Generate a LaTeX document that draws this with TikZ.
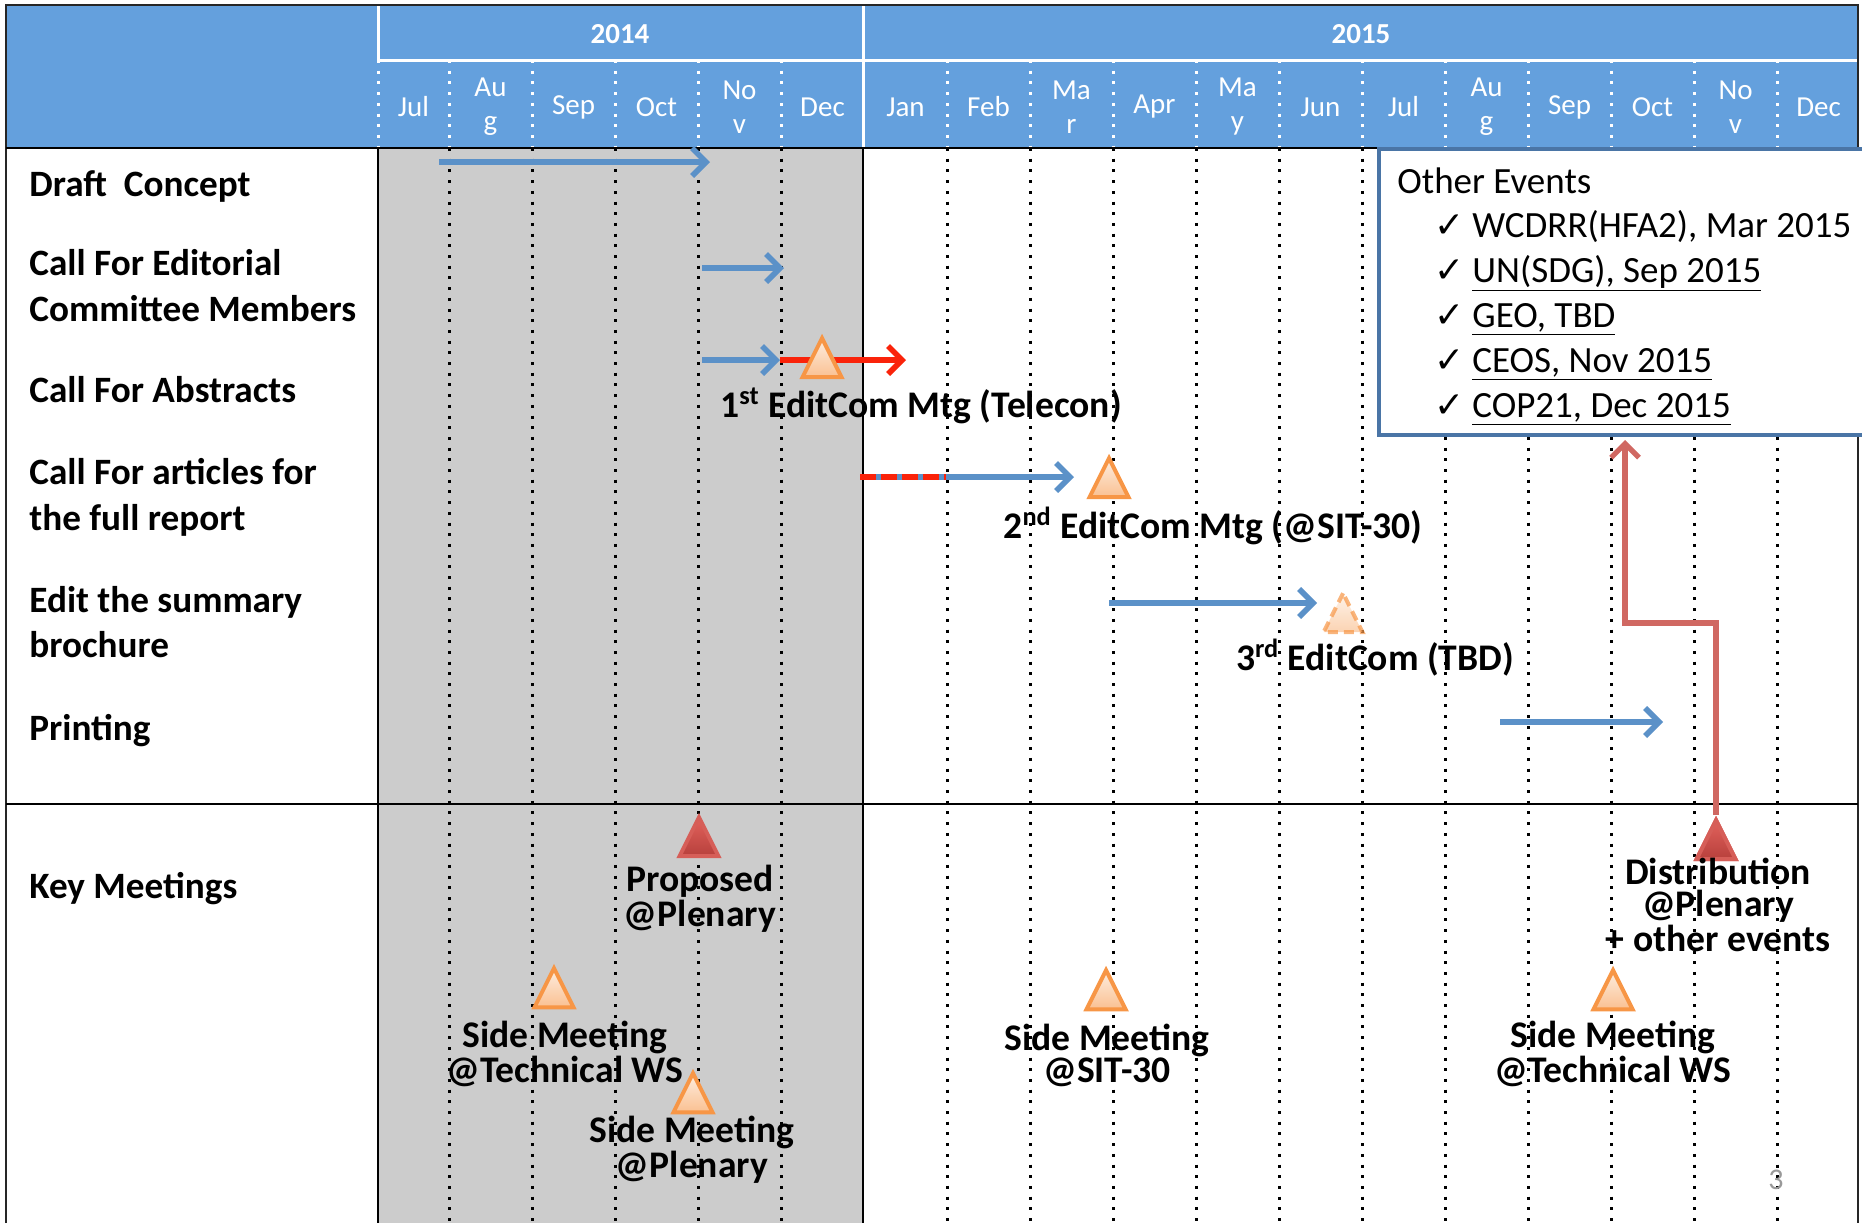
\documentclass[tikz,border=0pt]{standalone}
\usepackage{fontspec}
\setmainfont{Carlito}
\newfontfamily\symfont{DejaVu Sans}
\usetikzlibrary{arrows.meta}
\usetikzlibrary{shapes.geometric}
\usepackage{xcolor}

\definecolor{headblue}{RGB}{100,160,221}
\definecolor{pastgrey}{RGB}{204,204,204}
\definecolor{taskblue}{RGB}{91,145,200}
\definecolor{alertred}{RGB}{250,35,10}
\definecolor{linkred}{RGB}{208,104,98}
\definecolor{boxblue}{RGB}{74,117,166}
\definecolor{mtgline}{RGB}{247,150,70}
\definecolor{mtgtop}{RGB}{253,238,225}
\definecolor{mtgbot}{RGB}{250,192,145}
\definecolor{keyline}{RGB}{214,94,88}
\definecolor{keytop}{RGB}{226,98,92}
\definecolor{keybot}{RGB}{183,64,60}

\tikzset{
  rowlabel/.style={anchor=base west, inner sep=0pt, font=\fontsize{18.6}{23}\selectfont\bfseries},
  monthlabel/.style={align=center, text=white, inner sep=0pt, font=\fontsize{14.5}{17}\selectfont},
  yearlabel/.style={text=white, inner sep=0pt, font=\fontsize{14.5}{17}\selectfont\bfseries},
  mtglabel/.style={align=center, anchor=base, inner sep=0pt, font=\fontsize{18.8}{16}\selectfont\bfseries},
  evtext/.style={anchor=base west, inner sep=0pt, font=\fontsize{18.5}{22}\selectfont},
  griddots/.style={line width=1.5pt, dash pattern=on 1.5pt off 3.85pt},
  task/.style={taskblue, line width=2.8pt, -{Straight Barb[length=7pt,width=14pt]}},
  late/.style={alertred, line width=2.8pt},
  link/.style={linkred, line width=2.6pt, -{Straight Barb[length=7pt,width=14pt]}},
  mtg/.style={isosceles triangle, isosceles triangle stretches, shape border rotate=90,
    minimum width=19.5pt, minimum height=19.5pt, inner sep=0pt, anchor=apex,
    draw=mtgline, line width=2pt, top color=mtgtop, bottom color=mtgbot},
  keymtg/.style={mtg, draw=keyline, top color=keytop, bottom color=keybot},
}

\begin{document}
\begin{tikzpicture}[x=0.5pt, y=-0.5pt]

        \clip (0,0) rectangle (1862,1223);

        % Header and past months
        \fill[headblue] (6,5) rectangle (1858,148);
        \fill[pastgrey] (378,148) rectangle (863,1223);

        % Month grid
        \foreach \i in {0,...,16}
        {
          \pgfmathsetmacro\mx{449+83*\i}
          \ifnum\i=5\relax\else
            \draw[griddots] (\mx,148) -- (\mx,1223);
            \draw[griddots, white] (\mx,60) -- (\mx,148);
          \fi
        }
        \draw[griddots, white] (378,60) -- (378,148);

        % Header lines
        \draw[white, line width=1.5pt] (378,5) -- (378,60) -- (1858,60);
        \draw[white, line width=1.5pt] (863,5) -- (863,148);

        % Table lines
        \draw[black!85, line width=1pt] (6,1223) -- (6,5) -- (1858,5) -- (1858,1223);
        \draw[line width=1pt] (6,148) -- (1858,148);
        \draw[line width=1pt] (378,148) -- (378,1223);
        \draw[line width=1pt] (863,148) -- (863,1223);
        \draw[line width=0.7pt] (6,804) -- (1858,804);

        % Years and months
        \node[yearlabel] (y2014) at (620,34) {2014};
        \node[yearlabel] (y2015) at (1361,34) {2015};
        \foreach \m [count=\i from 0] in {Jul,{Au\\g},Sep,Oct,{No\\v},Dec,Jan,Feb,{Ma\\r},Apr,{Ma\\y},Jun,Jul,{Au\\g},Sep,Oct,{No\\v},Dec}
        {
          \pgfmathsetmacro\mx{max(413.5,407.5+83*\i)}
          \node[monthlabel] (m\i) at (\mx,107) {\m};
        }

        % Row labels
        \foreach \y/\t [count=\k] in {196/Draft\ \ Concept, 275/Call For Editorial, 321/Committee Members,
            402/Call For Abstracts, 484/Call For articles for, 530/the full report,
            612/Edit the summary, 657/brochure, 740/Printing, 898/Key Meetings}
          \node[rowlabel] (row\k) at (29,\y) {\t};

        % Other events
        \node[draw=boxblue, line width=2pt, fill=white, inner sep=0pt, anchor=north west,
          minimum width=255pt, minimum height=143pt] (events) at (1377,147) {};
        \node[evtext] (evhead) at (1397,193) {Other Events};
        \foreach \y/\t [count=\k] in {237/{WCDRR(HFA2), Mar 2015}, 282/{\underline{UN(SDG), Sep 2015}},
            327/{\underline{GEO, TBD}}, 372/{\underline{CEOS, Nov 2015}}, 417/{\underline{COP21, Dec 2015}}}
        {
          \node[evtext, font=\fontsize{18}{18}\symfont\bfseries] (tick\k) at (1434,\y) {✓};
          \node[evtext] (ev\k) at (1472,\y) {\t};
        }

        % Tasks
        \foreach \a/\b/\y [count=\k] in {439/710/162, 702/784/268, 702/780/360,
            860/1074/477, 1109/1317/603, 1500/1663/722}
        {
          \coordinate (s\k) at (\a,\y);
          \coordinate (e\k) at (\b,\y);
          \draw[task] (s\k) -- (e\k);
        }
        \coordinate (r3) at (906,360);
        \draw[late, -{Straight Barb[length=7pt,width=14pt]}] (e3) -- (r3);
        \coordinate (r4) at (946,477);
        \draw[late, dash pattern=on 8pt off 2.5pt] (s4) -- (r4);

        % Distribution to other events
        \node[keymtg] (dist) at (1716,815) {};
        \coordinate (turn) at (1625,623);
        \coordinate (evtip) at (1625,440);
        \draw[link] (dist.apex) |- (turn) -- (evtip);

        % Meetings
        \node[mtg] (em1) at (822,333) {};
        \node[mtg] (em2) at (1109,453) {};
        \node[mtg, dash pattern=on 5pt off 3pt, opacity=0.7] (em3) at (1343,588) {};
        \node[keymtg] (prop) at (699,812) {};
        \node[keymtg] (dist) at (1716,815) {};
        \node[mtg] (side1) at (554,963) {};
        \node[mtg] (side2) at (693,1068) {};
        \node[mtg] (side3) at (1106,965) {};
        \node[mtg] (side4) at (1613,965) {};

        \node[mtglabel] (em1lab) at (921,417) {1\textsuperscript{st} EditCom Mtg (Telecon)};
        \node[mtglabel] (em2lab) at (1213,538) {2\textsuperscript{nd} EditCom Mtg (@SIT-30)};
        \node[mtglabel] (em3lab) at (1375,670) {3\textsuperscript{rd} EditCom (TBD)};
        \node[mtglabel] (proplab) at (700,926) {Proposed\\@Plenary};
        \node[mtglabel] (distlab) at (1718,951) {Distribution\\@Plenary\\+ other events};
        \node[mtglabel] (side1lab) at (565,1082) {Side Meeting\\@Technical WS};
        \node[mtglabel] (side2lab) at (692,1177) {Side Meeting\\@Plenary};
        \node[mtglabel] (side3lab) at (1107,1082) {Side Meeting\\@SIT-30};
        \node[mtglabel] (side4lab) at (1613,1082) {Side Meeting\\@Technical WS};

        \node[text=black!40, inner sep=0pt, font=\fontsize{15}{18}\selectfont] (pageno) at (1776,1180) {3};
    \end{tikzpicture}
\end{document}
